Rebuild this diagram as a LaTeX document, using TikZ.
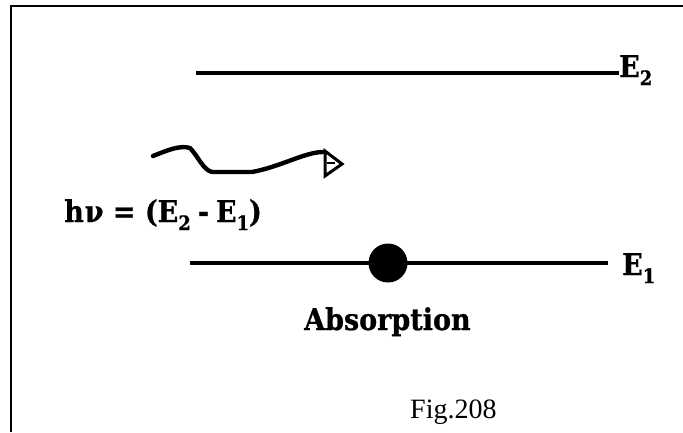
\documentclass[tikz,border=0pt]{standalone}
\usepackage{fontspec}
\setmainfont{Liberation Serif}
\newfontfamily\slabfont{DejaVu Serif Condensed}[BoldFeatures={FakeBold=0.8}]
\tikzset{
  level/.style={line width=3.8pt},
  frame/.style={line width=2pt},
  wave/.style={line width=4.4pt, line join=round, line cap=round},
  boldlabel/.style={font=\fontsize{30}{34}\selectfont\slabfont\bfseries, inner sep=0pt},
  figlabel/.style={font=\fontsize{28}{30}\selectfont, inner sep=0pt}
}
\newcommand{\lowsub}[1]{\raisebox{-0.27em}{\fontsize{20}{22}\selectfont #1}}
\begin{document}
\begin{tikzpicture}[x=1pt,y=-1pt]
\useasboundingbox (0,0) rectangle (683,432);
% frame (top and left edges only)
\draw[frame] (10,6) -- (683,6);
\draw[frame] (11,5) -- (11,432);
% labels
\node[boldlabel, anchor=base west] (e2) at (619,77) {E\lowsub{2}};
\node[boldlabel, anchor=base west] (e1) at (622,275) {E\lowsub{1}};
\node[boldlabel, anchor=base west] (hv) at (64,222) {h\kern1ptν = (E\lowsub{2}\hspace{7pt}-\hspace{7pt}E\lowsub{1})};
\node[boldlabel, anchor=base west] (abs) at (304,330) {Absorption};
\node[figlabel, anchor=base west] (fig) at (410,418) {Fig.208};
% energy levels
\coordinate (e2s) at (196,73);
\coordinate (e1s) at (190,263);
\coordinate (e1e) at (608,263);
\draw[level] (e2s) -- (e2.west |- e2s);
\draw[level] (e1s) -- (e1e);
% electron
\node[circle, fill=black, minimum size=39pt, inner sep=0pt] (dot) at (388,263) {};
% photon
\draw[wave] (153,156) .. controls (168,150) and (180,145) .. (190,148)
  .. controls (198,156) and (203,170) .. (212,172) -- (252,172)
  .. controls (280,167) and (305,152) .. (323,152);
\draw[line width=3pt, line join=miter] (325,151) -- (342,164) -- (325,176) -- cycle;
\draw[line width=2.4pt] (327,163) -- (335,163);
\end{tikzpicture}
\end{document}
